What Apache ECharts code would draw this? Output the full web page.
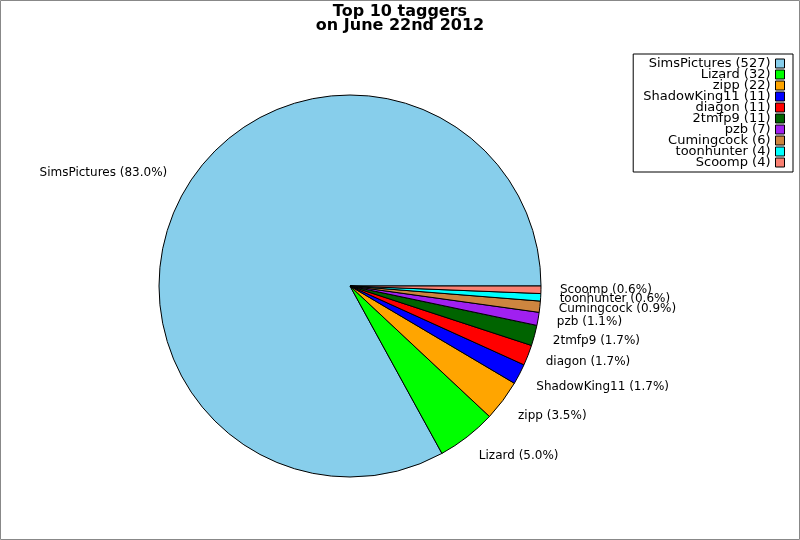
<!DOCTYPE html>
<html><head><meta charset="utf-8">
<script src="https://cdn.jsdelivr.net/npm/echarts@6/dist/echarts.min.js"></script>
<style>html,body{margin:0;padding:0;background:#fff}#c{width:800px;height:540px}</style>
</head><body><div id="c"></div>
<script>
const names = ['SimsPictures','Lizard','zipp','ShadowKing11','diagon','2tmfp9','pzb','Cumingcock','toonhunter','Scoomp'];
const values = [527,32,22,11,11,11,7,6,4,4];
const colors = ['#87CEEB','#00FF00','#FFA500','#0000FF','#FF0000','#006400','#A020F0','#CD853F','#00FFFF','#FA8072'];
const total = values.reduce((a,b)=>a+b,0);
const font = 'DejaVu Sans';
// label nudges: upper-half labels sit above their anchor, steep lower labels sit slightly below
let cum = 0;
const nudge = values.map(v => {
  const mid = (cum + v/2)/total*2*Math.PI; cum += v;
  const s = Math.sin(mid);
  if (s > 0) return {dx:-2, dy:-6};
  if (s < -0.4) return {dx:0, dy:4};
  return {dx:0, dy:0};
});
const chart = echarts.init(document.getElementById('c'));
chart.setOption({
  animation:false,
  color: colors,
  title:{text:'Top 10 taggers\non June 22nd 2012',left:'center',top:0,
    textStyle:{fontFamily:font,fontSize:16,fontWeight:'bold',color:'#000',lineHeight:14}},
  graphic:[{type:'rect',shape:{x:0.5,y:0.5,width:799,height:539},style:{fill:'none',stroke:'#888',lineWidth:1},silent:true}],
  legend:{orient:'vertical',right:7,top:54,align:'right',icon:'rect',itemWidth:9,itemHeight:9,itemGap:-2,
    padding:[3,8,3,10],borderColor:'#000',borderWidth:1,
    itemStyle:{borderColor:'#000',borderWidth:1},
    data:names,
    formatter:n=>n+' ('+values[names.indexOf(n)]+')',
    textStyle:{fontFamily:font,fontSize:13,color:'#000'}},
  series:[{type:'pie',center:[350,286],radius:191,startAngle:0,clockwise:false,avoidLabelOverlap:false,
    itemStyle:{borderColor:'#000',borderWidth:1},
    emphasis:{disabled:true},
    labelLayout:p=>Object.assign({hideOverlap:false}, nudge[p.dataIndex]),
    label:{show:true,position:'outside',fontFamily:font,fontSize:12,color:'#000',distanceToLabelLine:0,
      formatter:p=>p.name+' ('+(p.value/total*100).toFixed(1)+'%)'},
    labelLine:{show:false,length:19,length2:0},
    data:names.map((n,i)=>({name:n,value:values[i]}))
  }]
});
</script></body></html>
